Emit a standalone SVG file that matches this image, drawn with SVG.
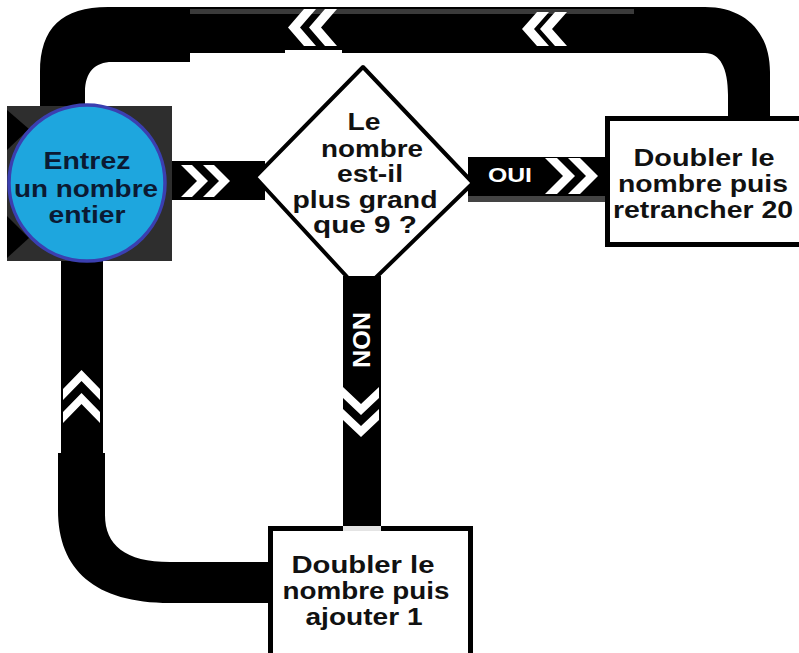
<svg xmlns="http://www.w3.org/2000/svg" width="799" height="653" viewBox="0 0 799 653">
  <style>
    .band { fill: #000; }
    .chev { fill: #fff; }
    .lbl { font-family: "Liberation Sans", Arial, sans-serif; font-weight: bold; text-anchor: middle; }
    .node-text { font-size: 24px; fill: #111; }
    .start-text { font-size: 24px; fill: #0b1a33; }
    .band-text { fill: #fff; }
    .box { fill: #fff; stroke: #000; stroke-width: 5; }
  </style>
  <rect width="799" height="653" fill="#fff"/>

  <!-- connectors: thick black bands with chevron arrows -->
  <g id="connectors">
    <!-- return loop from the right box, across the top, back to the start -->
    <path class="band" d="M633,7 H705 C745,7 770,32 770,72 V118 H728 V95 C728,68 720,53 705,53 H633 Z"/>
    <rect x="187" y="7" width="447" height="46" fill="#000"/>
    <rect x="187" y="9" width="447" height="5" fill="#3a3a3a"/>
    <path class="band" d="M40,108 V72 C40,28 62,7 108,7 H190 V62 H112 C95,62 85,72 85,92 V108 Z"/>
    <polygon class="chev" points="316,9 304,9 288,27.5 304,46 316,46 300,27.5"/>
    <polygon class="chev" points="337,9 325,9 309,27.5 325,46 337,46 321,27.5"/>
    <rect x="285" y="50" width="57" height="3" fill="#fff"/>
    <polygon class="chev" points="549,12 537,12 522,29 537,46 549,46 534,29"/>
    <polygon class="chev" points="567,12 555,12 540,29 555,46 567,46 552,29"/>

    <!-- return loop from the bottom box, up the left side -->
    <rect x="61" y="258" width="42" height="200" fill="#000"/>
    <path class="band" d="M58,453 H105 V515 C105,545 125,562 170,562 H272 V603 H170 C95,603 58,570 58,510 Z"/>
    <polygon class="chev" points="81.5,370 100,389 100,400 81.5,381 63,400 63,389"/>
    <polygon class="chev" points="81.5,393 100,412 100,423 81.5,404 63,423 63,412"/>

    <!-- start to decision -->
    <rect x="165" y="161" width="100" height="39" fill="#000"/>
    <polygon class="chev" points="181,165 192,165 208,181 192,197 181,197 197,181"/>
    <polygon class="chev" points="203,165 214,165 230,181 214,197 203,197 219,181"/>

    <!-- decision: OUI branch -->
    <rect x="468" y="157" width="140" height="45" fill="#000"/>
    <rect x="468" y="196" width="140" height="6" fill="#444"/>
    <text class="lbl band-text" x="510" y="182" font-size="20" textLength="44" lengthAdjust="spacingAndGlyphs">OUI</text>
    <polygon class="chev" points="545,158 557,158 575,176 557,194 545,194 563,176"/>
    <polygon class="chev" points="568,158 580,158 598,176 580,194 568,194 586,176"/>
  </g>

  <!-- start node -->
  <g id="start">
    <rect x="7" y="106" width="165" height="155" fill="#2e2e2e"/>
    <polygon points="7,110 29,129 7,150" fill="#000"/>
    <polygon points="7,216 29,238 7,258" fill="#000"/>
    <circle cx="87" cy="183" r="78" fill="#1ea6de" stroke="#3b3fb0" stroke-width="3.5"/>
    <text class="lbl start-text" x="87" y="169" textLength="87" lengthAdjust="spacingAndGlyphs">Entrez</text>
    <text class="lbl start-text" x="86" y="197" textLength="144" lengthAdjust="spacingAndGlyphs">un nombre</text>
    <text class="lbl start-text" x="87" y="223" textLength="77" lengthAdjust="spacingAndGlyphs">entier</text>
  </g>

  <!-- decision node -->
  <g id="decision">
    <polygon points="363,67 473,183 361,292 255,177" fill="#fff" stroke="#000" stroke-width="4" stroke-linejoin="round"/>
    <text class="lbl node-text" x="364" y="130" textLength="33" lengthAdjust="spacingAndGlyphs">Le</text>
    <text class="lbl node-text" x="372" y="157" textLength="102" lengthAdjust="spacingAndGlyphs">nombre</text>
    <text class="lbl node-text" x="370" y="182" textLength="66" lengthAdjust="spacingAndGlyphs">est-il</text>
    <text class="lbl node-text" x="365" y="208" textLength="145" lengthAdjust="spacingAndGlyphs">plus grand</text>
    <text class="lbl node-text" x="365" y="233" textLength="104" lengthAdjust="spacingAndGlyphs">que 9 ?</text>
  </g>

  <!-- decision: NON branch -->
  <g id="non-branch">
    <rect x="343" y="276" width="38" height="251" fill="#000"/>
    <text class="lbl band-text" transform="translate(353,340) rotate(90)" font-size="23" textLength="56" lengthAdjust="spacingAndGlyphs">NON</text>
    <polygon class="chev" points="361,415 379,398 379,387 361,404 343,387 343,398"/>
    <polygon class="chev" points="361,437 379,420 379,409 361,426 343,409 343,420"/>
  </g>

  <!-- right process node -->
  <g id="subtract">
    <rect class="box" x="607.5" y="118.5" width="210" height="126"/>
    <text class="lbl node-text" x="704" y="166" textLength="141" lengthAdjust="spacingAndGlyphs">Doubler le</text>
    <text class="lbl node-text" x="703" y="192" textLength="170" lengthAdjust="spacingAndGlyphs">nombre puis</text>
    <text class="lbl node-text" x="703" y="218" textLength="180" lengthAdjust="spacingAndGlyphs">retrancher 20</text>
  </g>

  <!-- bottom process node -->
  <g id="add">
    <rect class="box" x="270.5" y="528.5" width="200" height="140"/>
    <rect x="343" y="526" width="38" height="5" fill="#e4e4e4"/>
    <text class="lbl node-text" x="363" y="573" textLength="143" lengthAdjust="spacingAndGlyphs">Doubler le</text>
    <text class="lbl node-text" x="366" y="599" textLength="167" lengthAdjust="spacingAndGlyphs">nombre puis</text>
    <text class="lbl node-text" x="364" y="625" textLength="117" lengthAdjust="spacingAndGlyphs">ajouter 1</text>
  </g>
</svg>
